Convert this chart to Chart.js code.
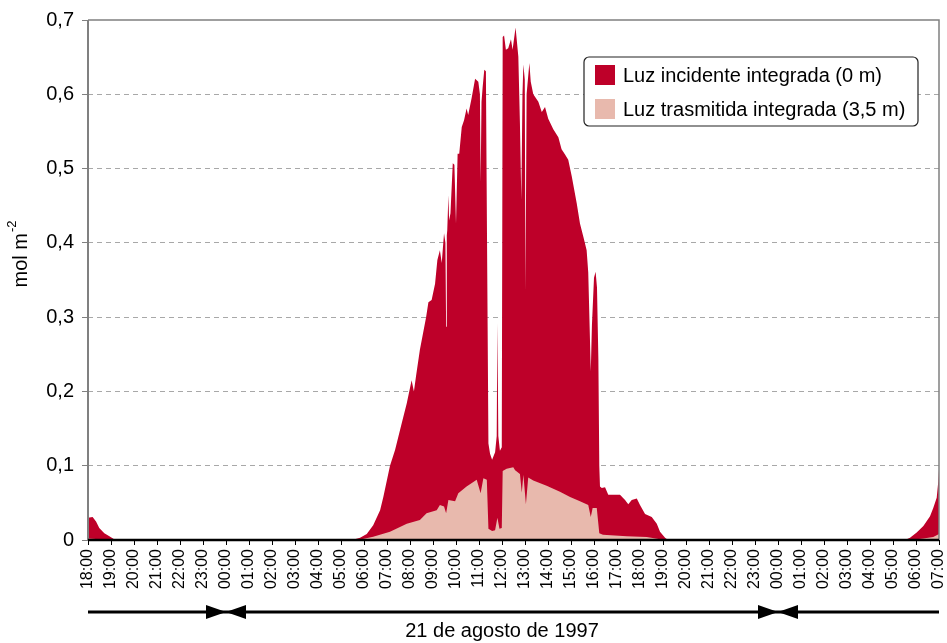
<!DOCTYPE html>
<html>
<head>
<meta charset="utf-8">
<script src="https://cdn.jsdelivr.net/npm/chart.js@4.4.0/dist/chart.umd.min.js"></script>
<style>
  html, body { margin: 0; padding: 0; background: #fff; }
  #wrap { width: 947px; height: 643px; }
</style>
</head>
<body>
<div id="wrap"><canvas id="container" width="947" height="643"></canvas></div>
<script>
const hourLabels = [
  "18:00", "19:00", "20:00", "21:00", "22:00", "23:00",
  "00:00", "01:00", "02:00", "03:00", "04:00", "05:00", "06:00", "07:00",
  "08:00", "09:00", "10:00", "11:00", "12:00", "13:00", "14:00", "15:00",
  "16:00", "17:00", "18:00", "19:00", "20:00", "21:00", "22:00", "23:00",
  "00:00", "01:00", "02:00", "03:00", "04:00", "05:00", "06:00", "07:00",
];
const dayBreaks = [6, 30]; // posiciones de las 00:00 (horas desde las 18:00)
const dateLabel = "21 de agosto de 1997";

// horas desde las 18:00 del día anterior
const incidentHours = [
  0, 0.20, 0.35, 0.49, 0.71, 0.93, 1.14, 1.30, 11.48, 11.83, 12.12, 12.40, 12.70, 12.84,
  13.13, 13.35, 13.64, 13.86, 14.07, 14.17, 14.26, 14.43, 14.70, 14.80, 14.94, 15.09,
  15.19, 15.30, 15.38, 15.48, 15.54, 15.57, 15.60, 15.62, 15.67, 15.70, 15.76, 15.86,
  15.93, 16.00, 16.07, 16.14, 16.25, 16.35, 16.46, 16.53, 16.68, 16.83, 16.97, 17.04,
  17.07, 17.11, 17.16, 17.23, 17.30, 17.35, 17.41, 17.48, 17.57, 17.70, 17.77, 17.80,
  17.84, 17.91, 17.99, 18.03, 18.09, 18.17, 18.27, 18.39, 18.46, 18.59, 18.71, 18.78,
  18.84, 18.89, 18.93, 18.99, 19.02, 19.07, 19.19, 19.25, 19.36, 19.58, 19.73, 19.87,
  20.01, 20.23, 20.45, 20.59, 20.74, 20.88, 21.03, 21.25, 21.39, 21.54, 21.68, 21.75,
  21.86, 21.91, 22.00, 22.07, 22.13, 22.19, 22.23, 22.26, 22.34, 22.48, 22.62, 22.84,
  23.13, 23.35, 23.49, 23.64, 23.86, 24.00, 24.22, 24.51, 24.73, 24.87, 25.09, 25.22,
  35.52, 35.74, 36.03, 36.32, 36.61, 36.75, 36.90, 36.97, 37.00,
];
const incidentValues = [
  0.030, 0.031, 0.025, 0.016, 0.009, 0.005, 0.001, 0, 0, 0.003, 0.008, 0.020, 0.040, 0.058,
  0.100, 0.121, 0.157, 0.184, 0.215, 0.200, 0.220, 0.256, 0.300, 0.320, 0.323, 0.345,
  0.377, 0.390, 0.373, 0.413, 0.400, 0.287, 0.410, 0.417, 0.464, 0.430, 0.440, 0.507,
  0.505, 0.426, 0.520, 0.520, 0.556, 0.565, 0.581, 0.572, 0.595, 0.621, 0.617, 0.600,
  0.482, 0.590, 0.610, 0.633, 0.631, 0.400, 0.130, 0.116, 0.108, 0.118, 0.140, 0.292,
  0.140, 0.120, 0.125, 0.677, 0.679, 0.660, 0.662, 0.674, 0.660, 0.690, 0.651, 0.560,
  0.458, 0.600, 0.640, 0.620, 0.335, 0.600, 0.642, 0.617, 0.600, 0.590, 0.576, 0.583,
  0.567, 0.553, 0.542, 0.526, 0.519, 0.512, 0.490, 0.453, 0.426, 0.408, 0.390, 0.360,
  0.227, 0.289, 0.353, 0.361, 0.340, 0.244, 0.100, 0.072, 0.070, 0.071, 0.061, 0.061,
  0.061, 0.054, 0.048, 0.054, 0.056, 0.047, 0.035, 0.031, 0.022, 0.011, 0.003, 0,
  0, 0.003, 0.010, 0.019, 0.032, 0.043, 0.057, 0.079, 0.095,
];

const transmittedHours = [
  0, 0.52, 0.96, 11.74, 12.40, 13.13, 13.86, 14.43, 14.72, 15.16, 15.30, 15.48, 15.57,
  15.67, 15.96, 16.10, 16.46, 16.90, 17.07, 17.19, 17.34, 17.41, 17.57, 17.70, 17.80,
  17.89, 17.99, 18.03, 18.20, 18.49, 18.57, 18.78, 18.86, 18.93, 19.04, 19.14, 19.36,
  19.94, 20.52, 20.96, 21.39, 21.75, 21.86, 21.94, 22.12, 22.23, 22.39, 23.42, 24.29,
  24.87, 25.09, 35.74, 36.32, 36.75, 37.00,
];
const transmittedValues = [
  0.002, 0.001, 0, 0, 0.0045, 0.011, 0.022, 0.027, 0.036, 0.040, 0.047, 0.045, 0.036,
  0.054, 0.052, 0.063, 0.072, 0.081, 0.063, 0.083, 0.081, 0.015, 0.012, 0.013, 0.030,
  0.015, 0.016, 0.093, 0.096, 0.098, 0.094, 0.089, 0.064, 0.088, 0.048, 0.084, 0.080,
  0.073, 0.065, 0.058, 0.052, 0.047, 0.031, 0.043, 0.043, 0.009, 0.007, 0.005, 0.004,
  0.001, 0, 0, 0.002, 0.004, 0.008,
];

const FONT = "'Liberation Sans', Arial, sans-serif";
const toPoints = (xs, ys) => xs.map((x, i) => ({ x: x, y: ys[i] }));

// marco, leyenda, flechas de fecha y título del eje Y
const decorations = {
  id: "decorations",
  afterDatasetsDraw(chart) {
    const { ctx, chartArea: a } = chart;
    ctx.save();
    ctx.strokeStyle = "#808080";
    ctx.lineWidth = 1.5;
    ctx.beginPath();
    ctx.moveTo(a.left, a.top);
    ctx.lineTo(a.right, a.top);
    ctx.lineTo(a.right, a.bottom);
    ctx.stroke();
    ctx.lineWidth = 2;
    ctx.beginPath();
    ctx.moveTo(a.left, a.top);
    ctx.lineTo(a.left, a.bottom);
    ctx.stroke();
    ctx.strokeStyle = "#000";
    ctx.lineWidth = 2.5;
    ctx.beginPath();
    ctx.moveTo(a.left, a.bottom);
    ctx.lineTo(a.right, a.bottom);
    ctx.stroke();
    ctx.restore();
  },
  afterDraw(chart) {
    const { ctx } = chart;
    const xs = chart.scales.x;
    ctx.save();

    // leyenda
    const lx = 584, ly = 57, lw = 334, lh = 69;
    ctx.fillStyle = "#fff";
    ctx.strokeStyle = "#222";
    ctx.lineWidth = 1.2;
    ctx.beginPath();
    ctx.roundRect(lx, ly, lw, lh, 5);
    ctx.fill();
    ctx.stroke();
    ctx.font = "20px " + FONT;
    ctx.textBaseline = "middle";
    ctx.textAlign = "left";
    chart.data.datasets.forEach((ds, i) => {
      const y = ly + 18 + i * 34;
      ctx.fillStyle = ds.backgroundColor;
      ctx.fillRect(lx + 11, y - 10, 20, 20);
      ctx.fillStyle = "#000";
      ctx.fillText(ds.label, lx + 39, y + 1);
    });

    // barra de fecha con flechas
    const barY = 612;
    ctx.strokeStyle = "#000";
    ctx.fillStyle = "#000";
    ctx.lineWidth = 3;
    ctx.beginPath();
    ctx.moveTo(xs.getPixelForValue(0), barY);
    ctx.lineTo(xs.getPixelForValue(hourLabels.length - 1), barY);
    ctx.stroke();
    dayBreaks.forEach((h) => {
      const bx = xs.getPixelForValue(h);
      ctx.beginPath();
      ctx.moveTo(bx - 20, barY - 7);
      ctx.lineTo(bx, barY);
      ctx.lineTo(bx - 20, barY + 7);
      ctx.closePath();
      ctx.fill();
      ctx.beginPath();
      ctx.moveTo(bx + 20, barY - 7);
      ctx.lineTo(bx, barY);
      ctx.lineTo(bx + 20, barY + 7);
      ctx.closePath();
      ctx.fill();
    });
    const mid = (xs.getPixelForValue(dayBreaks[0]) + xs.getPixelForValue(dayBreaks[1])) / 2;
    ctx.font = "20px " + FONT;
    ctx.textAlign = "center";
    ctx.textBaseline = "middle";
    ctx.fillText(dateLabel, mid, 631);

    // título del eje Y: mol m^-2
    ctx.translate(21, 254);
    ctx.rotate(-Math.PI / 2);
    ctx.font = "20px " + FONT;
    const mainW = ctx.measureText("mol m").width;
    ctx.font = "13px " + FONT;
    const supW = ctx.measureText("-2").width;
    const start = -(mainW + supW + 1) / 2;
    ctx.textAlign = "left";
    ctx.textBaseline = "middle";
    ctx.font = "20px " + FONT;
    ctx.fillText("mol m", start, 0);
    ctx.font = "13px " + FONT;
    ctx.fillText("-2", start + mainW + 1, -9);
    ctx.restore();
  },
};

const ctx = document.getElementById("container");
const myChart = new Chart(ctx, {
  type: "line",
  data: {
    datasets: [
      {
        label: "Luz incidente integrada (0 m)",
        data: toPoints(incidentHours, incidentValues),
        backgroundColor: "#BE0029",
        borderColor: "#BE0029",
        borderWidth: 0,
        pointRadius: 0,
        fill: "origin",
        tension: 0,
        order: 1,
      },
      {
        label: "Luz trasmitida integrada (3,5 m)",
        data: toPoints(transmittedHours, transmittedValues),
        backgroundColor: "#E8B9AD",
        borderColor: "#E8B9AD",
        borderWidth: 0,
        pointRadius: 0,
        fill: "origin",
        tension: 0,
        order: 0,
      },
    ],
  },
  options: {
    responsive: false,
    animation: false,
    devicePixelRatio: 1,
    layout: { padding: { top: 20, right: 8, left: 0, bottom: 0 } },
    plugins: {
      legend: { display: false },
      tooltip: { enabled: false },
    },
    scales: {
      x: {
        type: "linear",
        min: 0,
        max: hourLabels.length - 1,
        afterFit: (scale) => {
          scale.height = 103;
          scale.paddingLeft = 0;
          scale.paddingRight = 0;
        },
        grid: { drawOnChartArea: false, tickLength: 5, color: "#000", tickWidth: 1 },
        border: { display: false },
        ticks: {
          stepSize: 1,
          autoSkip: false,
          maxRotation: 90,
          minRotation: 90,
          padding: 4,
          color: "#000",
          font: { family: FONT, size: 16, lineHeight: 1 },
          callback: (value) => hourLabels[value],
        },
      },
      y: {
        min: 0,
        max: 0.7,
        afterFit: (scale) => { scale.width = 88; },
        grid: {
          color: (c) => (c.tick && (c.tick.value === 0 || c.tick.value > 0.69) ? "rgba(0,0,0,0)" : "#A8A8A8"),
          lineWidth: 1,
          tickLength: 6,
          tickColor: "#808080",
        },
        border: { display: false, dash: [5, 4] },
        ticks: {
          stepSize: 0.1,
          padding: 8,
          color: "#000",
          font: { family: FONT, size: 20 },
          callback: (value) => (value === 0 ? "0" : value.toFixed(1).replace(".", ",")),
        },
      },
    },
  },
  plugins: [decorations],
});
</script>
</body>
</html>
